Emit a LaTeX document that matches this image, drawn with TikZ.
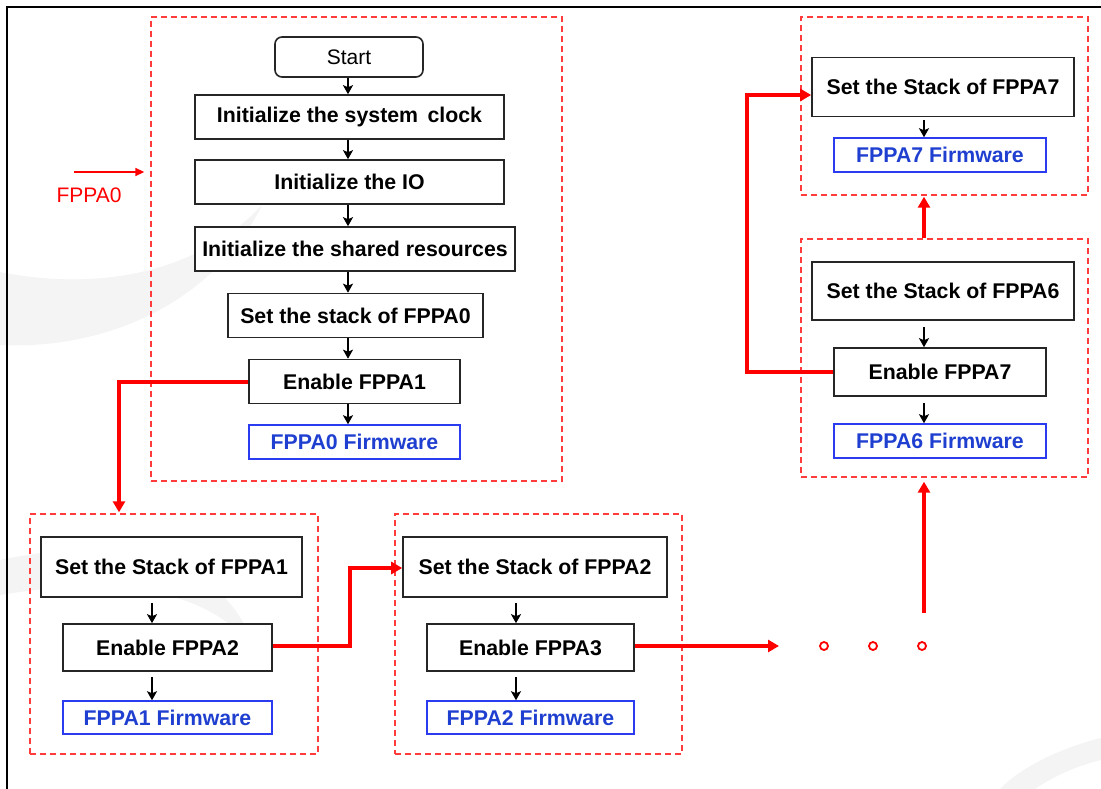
\documentclass[tikz,border=0pt]{standalone}
\usepackage{fontspec}
\setmainfont{Liberation Sans}
\usetikzlibrary{arrows.meta}
\definecolor{fred}{HTML}{FF0000}
\definecolor{gred}{HTML}{FF3B3B}
\definecolor{fblue}{HTML}{2A3BF0}
\definecolor{tblue}{HTML}{1F3FD0}
\definecolor{wm}{HTML}{F4F4F4}
\begin{document}
\begin{tikzpicture}[x=1pt,y=-1pt,
  box/.style={draw=black!85, line width=1.6pt, fill=white, inner sep=0pt, font=\bfseries\fontsize{21.3}{23}\selectfont},
  fw/.style={draw=fblue, line width=1.5pt, fill=white, text=tblue, inner sep=0pt, font=\bfseries\fontsize{21.3}{23}\selectfont},
  grp/.style={draw=gred, line width=1.4pt, dash pattern=on 6pt off 4pt, inner sep=0pt},
  blk/.style={-{Stealth[length=9pt,width=10pt,inset=2pt]}, line width=2pt},
  redarr/.style={draw=fred, line width=3.5pt, -{Triangle[length=11pt,width=12pt]}},
  redthin/.style={draw=fred, line width=1.6pt, -{Triangle[length=9pt,width=8pt]}},
  dot/.style={circle, draw=fred, line width=1.8pt, minimum size=8pt, inner sep=0pt}]
\useasboundingbox (0,0) rectangle (1101,789);
\fill[white] (0,0) rectangle (1101,789);
% watermark swooshes
\fill[wm] (0,272) .. controls (100,292) and (200,272) .. (262,205) .. controls (215,300) and (110,350) .. (0,345) -- cycle;
\fill[wm] (0,560) .. controls (120,535) and (225,555) .. (255,650) .. controls (210,590) and (120,575) .. (0,595) -- cycle;
\fill[wm] (1101,738) .. controls (1060,748) and (1020,768) .. (1000,789) -- (1035,789) .. controls (1055,775) and (1080,765) .. (1101,760) -- cycle;
% frame
\draw[line width=1.5pt] (7,789) -- (7,7) -- (1101,7);

% groups
\node[grp, minimum width=411pt, minimum height=464pt] (g0) at (356.5,249) {};
\node[grp, minimum width=288pt, minimum height=240pt] (g1) at (174,634) {};
\node[grp, minimum width=287pt, minimum height=240pt] (g2) at (538.5,634) {};
\node[grp, minimum width=287pt, minimum height=238pt] (g6) at (944.5,358) {};
\node[grp, minimum width=287pt, minimum height=178pt] (g7) at (944.5,106) {};

% FPPA0 group
\coordinate (x0) at (348,0);
\node[box, font=\fontsize{21}{23}\selectfont, rounded corners=7pt, minimum width=148pt, minimum height=40pt] (start) at (349,57) {Start};
\node[box, minimum width=309pt, minimum height=44pt] (clk) at (349.5,117) {Initialize the system \,clock};
\node[box, minimum width=309pt, minimum height=44pt] (io) at (349.5,182) {Initialize the IO};
\node[box, minimum width=320pt, minimum height=44pt] (shr) at (355,249) {Initialize the shared resources};
\node[box, minimum width=255pt, minimum height=44pt] (ss0) at (355.5,315.5) {Set the stack of FPPA0};
\node[box, minimum width=211pt, minimum height=44pt] (en1) at (354.5,381.5) {Enable FPPA1};
\node[fw, minimum width=211pt, minimum height=34pt] (fw0) at (354.5,442) {FPPA0 Firmware};
\draw[blk] (start.south -| x0) -- (clk.north -| x0);
\draw[blk] (clk.south -| x0) -- (io.north -| x0);
\draw[blk] (io.south -| x0) -- (shr.north -| x0);
\draw[blk] (shr.south -| x0) -- (ss0.north -| x0);
\draw[blk] (ss0.south -| x0) -- (en1.north -| x0);
\draw[blk] (en1.south -| x0) -- (fw0.north -| x0);

% FPPA1 group
\coordinate (x1) at (152,0);
\node[box, minimum width=261pt, minimum height=60pt] (ss1) at (171.5,567) {Set the Stack of FPPA1};
\node[box, minimum width=209pt, minimum height=47pt] (en2) at (167.5,647.5) {Enable FPPA2};
\node[fw, minimum width=209pt, minimum height=33pt] (fw1) at (167.5,717.5) {FPPA1 Firmware};
\draw[blk] ([yshift=-5pt]ss1.south -| x1) -- (en2.north -| x1);
\draw[blk] ([yshift=-5pt]en2.south -| x1) -- (fw1.north -| x1);

% FPPA2 group
\coordinate (x2) at (516,0);
\node[box, minimum width=264pt, minimum height=60pt] (ss2) at (535,567) {Set the Stack of FPPA2};
\node[box, minimum width=207pt, minimum height=47pt] (en3) at (530.5,647.5) {Enable FPPA3};
\node[fw, minimum width=207pt, minimum height=33pt] (fw2) at (530.5,717.5) {FPPA2 Firmware};
\draw[blk] ([yshift=-5pt]ss2.south -| x2) -- (en3.north -| x2);
\draw[blk] ([yshift=-5pt]en3.south -| x2) -- (fw2.north -| x2);

% FPPA6 group
\coordinate (x6) at (924,0);
\node[box, minimum width=262pt, minimum height=58pt] (ss6) at (943,291) {Set the Stack of FPPA6};
\node[box, minimum width=212pt, minimum height=48pt] (en7) at (940,372) {Enable FPPA7};
\node[fw, minimum width=212pt, minimum height=34pt] (fw6) at (940,441) {FPPA6 Firmware};
\draw[blk] ([yshift=-6pt]ss6.south -| x6) -- (en7.north -| x6);
\draw[blk] ([yshift=-6pt]en7.south -| x6) -- (fw6.north -| x6);

% FPPA7 group
\node[box, minimum width=262pt, minimum height=59pt] (ss7) at (943,87) {Set the Stack of FPPA7};
\node[fw, minimum width=212pt, minimum height=34pt] (fw7) at (940,155) {FPPA7 Firmware};
\draw[blk] ([yshift=-3pt]ss7.south -| x6) -- (fw7.north -| x6);

% entry label
\coordinate (a0) at (74,172);
\draw[redthin] (a0) -- ([xshift=-6pt]a0 -| g0.west);
\node[text=fred, font=\fontsize{21}{23}\selectfont, inner sep=0pt] (lbl0) at (89,195) {FPPA0};

% red connectors
\coordinate (c1) at (119,382);
\draw[redarr] (en1.west |- c1) -- (c1) -- ([yshift=1pt]c1 |- g1.north);
\coordinate (c2) at (350,646);
\draw[redarr] (en2.east |- c2) -- (c2) |- ([yshift=-1pt]ss2.west);
\coordinate (d0) at (779,646);
\draw[redarr] (en3.east |- d0) -- (d0);
\node[dot] (d1) at (824,646) {};
\node[dot] (d2) at (873,646) {};
\node[dot] (d3) at (922,646) {};
\coordinate (u0) at (924,613);
\draw[redarr, shorten >=4pt] (u0) -- (u0 |- g6.south);
\draw[redarr, shorten >=1pt] (g6.north -| u0) -- (g7.south -| u0);
\coordinate (k7) at (747,95);
\draw[redarr] (en7.west) -| (k7) -- (k7 -| ss7.west);
\end{tikzpicture}
\end{document}
